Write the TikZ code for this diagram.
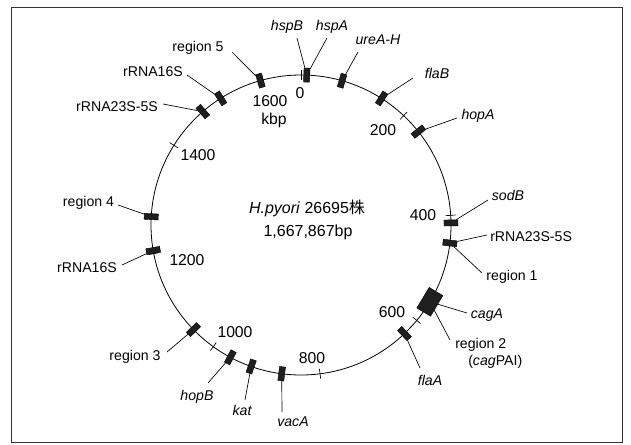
\documentclass[tikz,border=0pt]{standalone}
\usepackage{fontspec}
\setmainfont{Liberation Sans}
\newfontfamily\cjk{Noto Sans CJK JP}
\begin{document}
\begin{tikzpicture}[x=0.75pt,y=0.75pt,
  lab/.style={font=\fontsize{10.6}{12}\selectfont, inner sep=0pt},
  ilab/.style={font=\fontsize{10.6}{12}\selectfont\itshape, inner sep=0pt},
  num/.style={font=\fontsize{11.8}{13}\selectfont, inner sep=0pt},
  ctr/.style={font=\fontsize{12}{14}\selectfont, inner sep=0pt},
  gene/.style={draw=black, fill=black!88, line width=0.3pt, inner sep=0pt,
               minimum width=10.5pt, minimum height=4.5pt},
  biggene/.style={gene, minimum width=12pt, minimum height=18pt},
  conn/.style={line width=0.5pt},
  tick/.style={line width=0.5pt}]
\useasboundingbox (0,0) rectangle (631,444);
% frame
\draw[line width=0.6pt, black!80] (11,2) rectangle (622,437);

\begin{scope}[shift={(301,219)}]
  \draw[line width=0.6pt] (0,0) circle[radius=150];
  \foreach \a in {90,46.8,3.7,-39.5,-82.7,-125.8,-169,147.9,104.7}
    \draw[tick] (\a:145) -- (\a:155);
  \node[gene, rotate=87.8]   (boxHsp)  at (87.8:150) {};
  \node[gene, rotate=74.1]   (boxUre)  at (74.1:150) {};
  \node[gene, rotate=57.5]   (boxFlaB) at (57.5:150) {};
  \node[gene, rotate=38.5]   (boxHopA) at (38.5:150) {};
  \node[gene, rotate=0.8]    (boxSod)  at (0.8:150) {};
  \node[gene, rotate=-6.9]   (boxR1)   at (-6.9:150) {};
  \node[biggene, rotate=-30.8] (boxCag) at (-30.8:150) {};
  \node[gene, rotate=-46.4]  (boxFlaA) at (-46.4:150) {};
  \node[gene, rotate=-97.4]  (boxVac)  at (-97.4:150) {};
  \node[gene, rotate=-109.4] (boxKat)  at (-109.4:150) {};
  \node[gene, rotate=-118.1] (boxHopB) at (-118.1:150) {};
  \node[gene, rotate=-135.8] (boxR3)   at (-135.8:150) {};
  \node[gene, rotate=189.8]  (boxRL16) at (189.8:150) {};
  \node[gene, rotate=176.8]  (boxR4)   at (176.8:150) {};
  \node[gene, rotate=130.9]  (boxRL23) at (130.9:150) {};
  \node[gene, rotate=122.4]  (boxRU16) at (122.4:150) {};
  \node[gene, rotate=105.7]  (boxR5)   at (105.7:150) {};
\end{scope}

% scale numbers
\node[num] (n0)    at (300,351) {0};
\node[num] (n1600) at (270,343) {1600};
\node[num] (nkbp)  at (274,324) {kbp};
\node[num] (n200)  at (383,314) {200};
\node[num] (n400)  at (423,229) {400};
\node[num] (n600)  at (392,132) {600};
\node[num] (n800)  at (312,86)  {800};
\node[num] (n1000) at (235,112) {1000};
\node[num] (n1200) at (187,184) {1200};
\node[num] (n1400) at (198,289) {1400};

% centre
\node[ctr] (title) at (307,236) {\textit{H.pyori} 26695{\cjk 株}};
\node[ctr] (size)  at (308,212) {1,667,867bp};

% labels
\node[ilab] (lHspB) at (287,417) {hspB};
\node[ilab] (lHspA) at (332,417) {hspA};
\node[ilab] (lUre)  at (378,404) {ureA-H};
\node[ilab] (lFlaB) at (437,371) {flaB};
\node[ilab] (lHopA) at (478,328) {hopA};
\node[ilab] (lSod)  at (508,249) {sodB};
\node[lab, anchor=west] (lR23R) at (490,207) {rRNA23S-5S};
\node[lab] (lR1)   at (512,167) {region 1};
\node[ilab] (lCag) at (487,129) {cagA};
\node[lab, anchor=west] (lR2)  at (455,99) {region 2};
\node[lab, anchor=west] (lR2b) at (468,82) {(\textit{cag}PAI)};
\node[ilab] (lFlaA) at (430,64) {flaA};
\node[ilab] (lVac)  at (293,22) {vacA};
\node[ilab] (lKat)  at (242,34) {kat};
\node[ilab] (lHopB) at (197,47) {hopB};
\node[lab] (lR3)   at (135,87)  {region 3};
\node[lab] (lRL16) at (87,176)  {rRNA16S};
\node[lab] (lR4)   at (88.5,241) {region 4};
\node[lab] (lRL23) at (117,337) {rRNA23S-5S};
\node[lab] (lRU16) at (153,372) {rRNA16S};
\node[lab] (lR5)   at (198,396) {region 5};

% connector free ends
\coordinate (eHspB) at (297,406);
\coordinate (eHspA) at (327,406);
\coordinate (eUre)  at (358,392);
\coordinate (eFlaB) at (413,366);
\coordinate (eHopA) at (457,326);
\coordinate (eSod)  at (488,244);
\coordinate (eR23R) at (487,209);
\coordinate (eR1)   at (482,171);
\coordinate (eCag)  at (467,131);
\coordinate (eR2)   at (450,104);
\coordinate (eFlaA) at (420,76);
\coordinate (eVac)  at (282,32);
\coordinate (eKat)  at (245,44);
\coordinate (eHopB) at (208,61);
\coordinate (eR3)   at (167,92);
\coordinate (eRL16) at (122,179);
\coordinate (eR4)   at (118,239);
\coordinate (eRL23) at (163,340);
\coordinate (eRU16) at (187,369);
\coordinate (eR5)   at (232,392);

\draw[conn] (eHspB) -- (boxHsp);
\draw[conn] (eHspA) -- (boxHsp);
\draw[conn] (eUre)  -- (boxUre);
\draw[conn] (eFlaB) -- (boxFlaB);
\draw[conn] (eHopA) -- (boxHopA);
\draw[conn] (eSod)  -- (boxSod);
\draw[conn] (eR23R) -- (boxR1);
\draw[conn] (eR1)   -- (boxR1);
\draw[conn] (eCag)  -- (boxCag);
\draw[conn] (eR2)   -- (boxCag);
\draw[conn] (eFlaA) -- (boxFlaA);
\draw[conn] (eVac)  -- (boxVac);
\draw[conn] (eKat)  -- (boxKat);
\draw[conn] (eHopB) -- (boxHopB);
\draw[conn] (eR3)   -- (boxR3);
\draw[conn] (eRL16) -- (boxRL16);
\draw[conn] (eR4)   -- (boxR4);
\draw[conn] (eRL23) -- (boxRL23);
\draw[conn] (eRU16) -- (boxRU16);
\draw[conn] (eR5)   -- (boxR5);
\end{tikzpicture}
\end{document}
